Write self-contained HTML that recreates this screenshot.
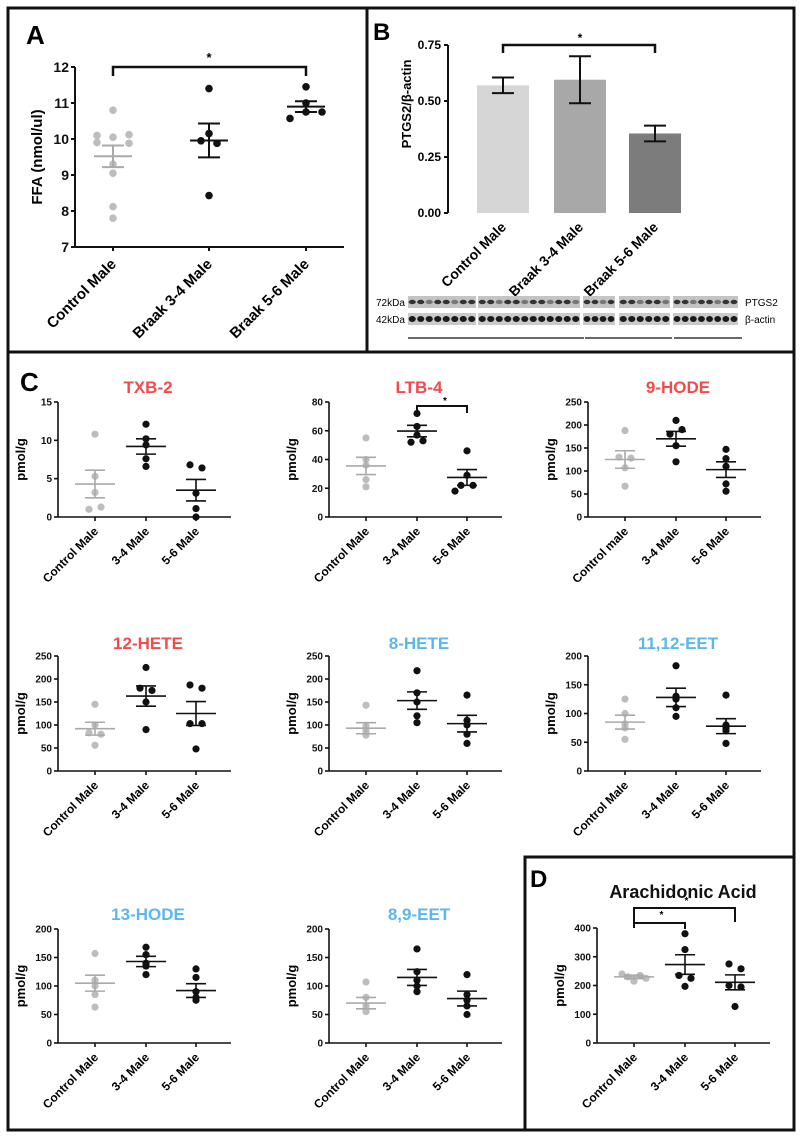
<!DOCTYPE html>
<html><head><meta charset="utf-8"><style>
html,body{margin:0;padding:0;background:#fff}
svg{display:block;font-family:"Liberation Sans",Arial,sans-serif;font-weight:bold}
</style></head><body>
<svg id="fig" width="802" height="1137" viewBox="0 0 802 1137" xmlns="http://www.w3.org/2000/svg">
<g fill="none" stroke="#111" stroke-width="3">
<rect x="8" y="8" width="786" height="1122"/>
<line x1="367" y1="8" x2="367" y2="352"/>
<line x1="8" y1="352" x2="794" y2="352"/>
<rect x="525" y="857" width="269" height="273"/>
</g>
<text x="26" y="44" font-size="26">A</text>
<text x="373" y="40" font-size="24">B</text>
<text x="20" y="391" font-size="26">C</text>
<text x="530" y="887" font-size="24">D</text>
<g id="root"></g>
</svg>
<script>
// ---------- Panel A data ----------
const aCats = ["Control Male","Braak 3-4 Male","Braak 5-6 Male"];
const aPoints = [[10.8,10.1,10.05,10.12,9.9,9.88,9.3,9.05,8.12,7.8],[11.4,10.15,9.95,9.88,8.43],[11.45,11.0,10.57,10.75,10.75]];
const aJitter = [[0,-2,0,2,-2,2,0,0,0,0],[0,0,-1,1,0],[0,0,-2,2,0]];
const aMeans = [9.52,9.96,10.9];
const aSem = [0.3,0.47,0.15];
const aTicks = [7,8,9,10,11,12];
// ---------- Panel B data ----------
const bCats = ["Control Male","Braak 3-4 Male","Braak 5-6 Male"];
const bVals = [0.57,0.595,0.355];
const bErr = [0.035,0.105,0.035];
const bTicks = [0,0.25,0.5,0.75];
// ---------- Panel C/D data ----------
const cTitles = ["TXB-2","LTB-4","9-HODE","12-HETE","8-HETE","11,12-EET","13-HODE","8,9-EET","Arachidonic Acid"];
const cMax = [15,80,250,250,250,200,200,200,400];
const cStep = [5,20,50,50,50,50,50,50,100];
const cCats = [["Control Male","3-4 Male","5-6 Male"],["Control Male","3-4 Male","5-6 Male"],["Control male","3-4 Male","5-6 Male"],["Control Male","3-4 Male","5-6 Male"],["Control Male","3-4 Male","5-6 Male"],["Control Male","3-4 Male","5-6 Male"],["Control Male","3-4 Male","5-6 Male"],["Control Male","3-4 Male","5-6 Male"],["Control Male","3-4 Male","5-6 Male"]];
const cCtrl = [[10.8,5.3,3.2,1.3,1.0],[55,40,36,26,21],[188,130,128,107,67],[145,100,83,80,56],[143,98,92,86,78],[125,100,82,75,55],[157,110,100,85,63],[107,80,65,60,55],[240,235,230,225,215]];
const cB34 = [[12.1,10.2,9.4,7.6,6.6],[72,63,57,52,53],[210,190,180,155,120],[225,180,175,150,90],[218,170,150,120,105],[183,130,125,110,95],[168,155,140,135,120],[165,125,110,100,90],[380,325,235,225,197]];
const cB56 = [[6.8,6.4,3.1,1.1,0],[46,29,22,22,18],[147,127,110,72,56],[187,180,103,103,48],[165,110,100,80,60],[132,80,75,70,48],[130,115,90,80,75],[120,85,75,65,50],[275,258,200,195,127]];
const cMeans = [[4.3,9.2,3.5],[35.5,59.8,27.5],[125,170,103],[92,163,125],[93,153,103],[85,128,78],[105,143,92],[70,115,78],[230,273,211]];
const cSem = [[1.8,1.0,1.4],[6,4,5.5],[19,16,17],[14,22,26],[12,19,18],[12,16,13],[14,9,12],[10,14,13],[6,34,26]];
const cJit = [[0,0,0,1,-1],[0,0,0,0,0],[0,-1,1,0,0],[0,0,-1,1,0],[0,0,0,0,0],[0,0,0,0,0],[0,0,0,0,0],[0,0,0,0,0],[-2,1,-1,2,0]];
const cJit2 = [[0,0,0,0,0],[0,0,0,-1,1],[0,1,-1,0,0],[0,-1,1,0,0],[0,0,0,0,0],[0,0,0,0,0],[0,0,0,0,0],[0,0,0,0,0],[0,0,-1,1,0]];
const cJit3 = [[-1,1,0,0,0],[0,0,-1,1,-2],[0,0,0,0,0],[-1,1,-1,1,0],[0,0,0,0,0],[0,0,0,0,0],[0,0,0,0,0],[0,0,0,0,0],[-1,1,-1,1,0]];
const cColors = ["#f24b4b","#f24b4b","#f24b4b","#f24b4b","#5cb8ea","#5cb8ea","#5cb8ea","#5cb8ea","#111"];

const NS="http://www.w3.org/2000/svg";
const root=document.getElementById('root');
function mk(tag,attrs,parent,txt){const e=document.createElementNS(NS,tag);for(const k in attrs)e.setAttribute(k,attrs[k]);if(txt!==undefined)e.textContent=txt;(parent||root).appendChild(e);return e;}

function dotPanel(o){
  const g=mk('g',{});
  
  
  const ys=v=>o.y0-(v-o.min)/(o.max-o.min)*(o.y0-o.y1);
  const ax=mk('line',{x1:o.ax,y1:o.y1,x2:o.ax,y2:o.y0,stroke:'#111','stroke-width':o.lw},g);
  
  
  const bx=mk('line',{x1:o.ax,y1:o.y0,x2:o.xend,y2:o.y0,stroke:'#111','stroke-width':o.lw},g);
  
  
  o.ticks.forEach(t=>{
    const y=ys(t);
    mk('line',{x1:o.ax-4,y1:y,x2:o.ax,y2:y,stroke:'#111','stroke-width':o.lw},g);
    const tl=mk('text',{x:o.ax-6,y:y+o.tfs*0.35,'font-size':o.tfs,'text-anchor':'end',fill:'#111'},g,t);
    
    
  });
  const yl=mk('text',{x:0,y:0,'font-size':o.yfs,'text-anchor':'middle',transform:`translate(${o.ylx},${(o.y0+o.y1)/2}) rotate(-90)`},g,o.ylabel);
  
  
  o.cats.forEach((c,i)=>{
    const cx=o.cx[i];
    mk('line',{x1:cx,y1:o.y0,x2:cx,y2:o.y0+4,stroke:'#111','stroke-width':o.lw},g);
    const lab=mk('text',{x:0,y:0,'font-size':o.xfs,'text-anchor':'end',transform:`translate(${cx+4},${o.y0+o.xfs+3}) rotate(-45)`},g,c);
    
    
    const col=i===0?'#bdbdbd':'#111';
    o.pts[i].forEach((v,j)=>{
      const d=mk('circle',{cx:cx+o.jit[i][j]*o.jw,cy:ys(v),r:o.r,fill:col},g);
      
      
    });
    const m=ys(o.means[i]),hi=ys(o.means[i]+o.sem[i]),lo=ys(o.means[i]-o.sem[i]);
    const lc=i===0?'#aaa':'#111';
    const ml=mk('line',{x1:cx-o.mw,y1:m,x2:cx+o.mw,y2:m,stroke:lc,'stroke-width':o.lw},g);
    
    
    mk('line',{x1:cx,y1:hi,x2:cx,y2:lo,stroke:lc,'stroke-width':o.lw},g);
    mk('line',{x1:cx-o.sw,y1:hi,x2:cx+o.sw,y2:hi,stroke:lc,'stroke-width':o.lw},g);
    mk('line',{x1:cx-o.sw,y1:lo,x2:cx+o.sw,y2:lo,stroke:lc,'stroke-width':o.lw},g);
  });
  if(o.title){
    const t=mk('text',{x:o.tx,y:o.ty,'font-size':o.tfsz,'text-anchor':'middle',fill:o.tcol},g,o.title);
    
    
  }
  return {g,ys};
}

// Panel A
const A=dotPanel({name:'panel-a-ffa-chart',ax:75,y0:247,y1:67,min:7,max:12,xend:344,ticks:aTicks,tfs:14,yfs:15,ylx:42,ylabel:'FFA (nmol/ul)',
 cats:aCats,cx:[113,209,306],xfs:15,pts:aPoints,jit:aJitter,jw:8,r:3.8,means:aMeans,sem:aSem,mw:19,sw:11,lw:2});
const ab=mk('path',{d:'M113 76 V67 H306 V76',fill:'none',stroke:'#111','stroke-width':2.5});


mk('text',{x:209,y:62,'font-size':13,'text-anchor':'middle'},root,'*');

// Panel B
(function(){
  const g=mk('g',{});
  
  
  const ax=448,y0=213,y1=45,ys=v=>y0-v/0.75*(y0-y1);
  const cx=[503,580,655],fills=['#d6d6d6','#a8a8a8','#7c7c7c'];
  bVals.forEach((v,i)=>{
    const r=mk('rect',{x:cx[i]-26,y:ys(v),width:52,height:y0-ys(v),fill:fills[i]},g);
    
    
    const hi=ys(v+bErr[i]),lo=ys(v-bErr[i]);
    mk('line',{x1:cx[i],y1:hi,x2:cx[i],y2:lo,stroke:'#111','stroke-width':2},g);
    mk('line',{x1:cx[i]-11,y1:hi,x2:cx[i]+11,y2:hi,stroke:'#111','stroke-width':2},g);
    mk('line',{x1:cx[i]-11,y1:lo,x2:cx[i]+11,y2:lo,stroke:'#111','stroke-width':2},g);
    const lab=mk('text',{x:0,y:0,'font-size':14,'text-anchor':'end',transform:`translate(${cx[i]+4},${y0+15}) rotate(-45)`},g,bCats[i]);
    
    
  });
  const ya=mk('line',{x1:ax,y1:y1,x2:ax,y2:y0,stroke:'#111','stroke-width':2},g);
  
  
  bTicks.forEach(t=>{
    mk('line',{x1:ax-4,y1:ys(t),x2:ax,y2:ys(t),stroke:'#111','stroke-width':2},g);
    const tl=mk('text',{x:ax-7,y:ys(t)+4,'font-size':12,'text-anchor':'end'},g,t.toFixed(2));
    
    
  });
  const yl=mk('text',{x:0,y:0,'font-size':13,'text-anchor':'middle',transform:`translate(411,${(y0+y1)/2-25}) rotate(-90)`},g,'PTGS2/β-actin');
  
  
  const br=mk('path',{d:`M${cx[0]} 53 V45 H${cx[2]} V53`,fill:'none',stroke:'#111','stroke-width':2.5},g);
  
  
  mk('text',{x:580,y:42,'font-size':12,'text-anchor':'middle'},g,'*');
})();

// Western blot
(function(){
  const g=mk('g',{'font-weight':'normal'});
  
  
  const segs=[[408,476,8],[478,580,12],[583,615,4],[619,670,6],[673,738,8]];
  segs.forEach(s=>{
    [[302,'#c4c4c4'],[319,'#cacaca']].forEach((row,ri)=>{
      mk('rect',{x:s[0],y:row[0]-6,width:s[1]-s[0],height:12,fill:row[1]},g);
      const n=s[2],w=(s[1]-s[0])/n;
      for(let k=0;k<n;k++){
        const shade=ri===1?'#1a1a1a':(k%3===2?'#777':'#333');
        mk('ellipse',{cx:s[0]+w*(k+0.5),cy:row[0],rx:w*0.42,ry:ri?3:2.2,fill:shade},g);
      }
    });
  });
  [[408,584],[585,672],[674,742]].forEach(l=>mk('line',{x1:l[0],y1:338,x2:l[1],y2:338,stroke:'#111','stroke-width':1.2},g));
  mk('text',{x:376,y:306,'font-size':10},g,'72kDa');
  mk('text',{x:376,y:323,'font-size':10},g,'42kDa');
  mk('text',{x:745,y:306,'font-size':10},g,'PTGS2');
  mk('text',{x:745,y:323,'font-size':10},g,'β-actin');
})();

// Panels C and D
const colX=[58,329,588], rowY=[[517,402,386],[771,656,642],[1043,929,913]];
for(let k=0;k<9;k++){
  let ax,y0,y1,ty;
  if(k<8){ax=colX[k%3];[y0,y1,ty]=rowY[Math.floor(k/3)];}
  else {ax=597;y0=1043;y1=928;ty=891;}
  const ticks=[];for(let t=0;t<=cMax[k];t+=cStep[k])ticks.push(t);
  const cx=[ax+37,ax+88,ax+138];
  dotPanel({name:'chart-'+cTitles[k].toLowerCase().replace(/[^a-z0-9]+/g,'-'),ax,y0,y1,min:0,max:cMax[k],xend:ax+173,ticks,tfs:10,yfs:13,ylx:ax-33,ylabel:'pmol/g',
    cats:cCats[k],cx,xfs:12,pts:[cCtrl[k],cB34[k],cB56[k]],jit:[cJit[k],cJit2[k],cJit3[k]],jw:6,r:3.6,means:cMeans[k],sem:cSem[k],mw:20,sw:10,lw:1.6,
    title:cTitles[k],tx:k<8?ax+90:683,ty:ty+7,tfsz:k<8?17:18,tcol:cColors[k]});
  if(k===1){
    const b=mk('path',{d:`M${cx[1]} 413 V406 H${cx[2]} V413`,fill:'none',stroke:'#111','stroke-width':2});
    
    
    mk('text',{x:cx[1]+28,y:404,'font-size':10,'text-anchor':'middle'},root,'*');
  }
  if(k===8){
    const b1=mk('path',{d:`M${cx[0]} 928 V908 H${cx[2]} V922`,fill:'none',stroke:'#111','stroke-width':2});
    
    
    const b2=mk('path',{d:`M${cx[0]} 923 H${cx[1]} V929`,fill:'none',stroke:'#111','stroke-width':2});
    
    
    mk('text',{x:(cx[0]+cx[2])/2+2,y:904,'font-size':10,'text-anchor':'middle'},root,'*');
    mk('text',{x:(cx[0]+cx[1])/2+2,y:918,'font-size':10,'text-anchor':'middle'},root,'*');
  }
}
</script>
</body></html>
